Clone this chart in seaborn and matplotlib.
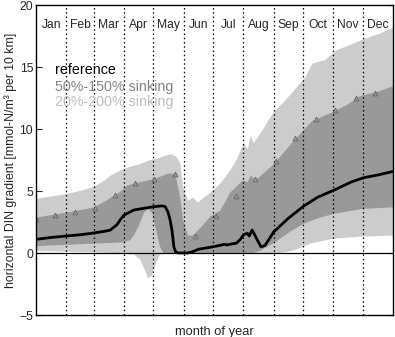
import numpy as np
import pandas as pd
import matplotlib
matplotlib.use("Agg")
import matplotlib.pyplot as plt
import seaborn as sns

# month labels and month start days
months = ['Jan', 'Feb', 'Mar', 'Apr', 'May', 'Jun', 'Jul', 'Aug', 'Sep', 'Oct', 'Nov', 'Dec']
month_start = [0, 31, 59, 90, 120, 151, 181, 212, 243, 273, 304, 334, 365]

# 20%-200% sinking band (upper edge)
lu_day = [0, 15, 31, 45, 58, 70, 76, 86, 96, 106, 115, 125, 132, 138, 143, 147, 150, 155,
          160, 165, 171, 178, 188, 198, 205, 212, 216, 219, 222, 230, 240, 244, 255, 265,
          275, 282, 295, 307, 320, 335, 350, 365]
lu_val = [4.4, 4.6, 4.8, 5.05, 5.35, 5.9, 6.3, 6.7, 7.0, 7.2, 7.5, 7.7, 7.9, 8.0, 7.8, 7.26,
          5.3, 4.27, 4.5, 4.1, 4.5, 4.9, 5.65, 6.7, 7.6, 8.9, 8.4, 9.5, 8.9, 9.8, 11.1, 11.5,
          12.4, 13.3, 14.2, 15.3, 15.6, 16.4, 16.8, 17.3, 17.7, 18.2]

# 20%-200% sinking band (lower edge)
ll_day = [0, 31, 58, 76, 90, 100, 106, 110, 114, 118, 122, 126, 130, 240, 250, 263, 280,
          304, 330, 365]
ll_val = [0.2, 0.15, 0.1, 0.05, 0.0, -0.1, -0.5, -1.2, -2.0, -1.8, -0.8, -0.1, 0.0, 0.0,
          0.05, 0.24, 0.8, 1.2, 1.35, 1.45]

# 50%-150% sinking band (upper edge)
du_day = [0, 15, 31, 45, 58, 70, 76, 86, 93, 106, 120, 135, 142, 147, 150, 155, 160, 165,
          178, 188, 198, 211, 216, 219, 224, 240, 246, 262, 282, 303, 320, 331, 347, 365]
du_val = [2.9, 3.1, 3.3, 3.5, 3.7, 4.2, 4.5, 5.0, 5.5, 5.75, 6.0, 6.45, 6.4, 4.5, 2.66, 1.45,
          1.45, 1.85, 3.0, 3.47, 4.9, 5.9, 5.75, 6.3, 5.9, 7.0, 7.5, 9.0, 10.7, 11.4, 12.1,
          12.7, 13.0, 13.5]

# 50%-150% sinking band (lower edge)
dl_day = [0, 31, 58, 76, 90, 96, 100, 106, 110, 114, 118, 122, 126, 130, 220, 229, 244,
          258, 273, 290, 304, 334, 365]
dl_val = [0.6, 0.7, 0.8, 0.85, 0.9, 1.1, 1.5, 2.5, 3.3, 3.6, 3.3, 2.0, 0.6, 0.0, 0.0, 0.24,
          0.9, 1.7, 2.4, 2.9, 3.2, 3.6, 3.73]

# reference run
ref_day = [0, 15, 31, 45, 58, 70, 76, 83, 86, 90, 96, 100, 110, 120, 129, 132, 135, 137,
           139, 141, 143, 146, 155, 160, 166, 181, 193, 195, 205, 209, 212, 216, 218, 221,
           226, 230, 234, 239, 243, 258, 274, 288, 305, 323, 335, 350, 364]
ref_val = [1.1, 1.25, 1.37, 1.47, 1.6, 1.75, 1.85, 2.3, 2.66, 3.06, 3.3, 3.47, 3.6, 3.73, 3.8,
           3.75, 3.3, 2.7, 1.85, 0.5, 0.05, 0.0, 0.0, 0.1, 0.3, 0.5, 0.7, 0.65, 0.8, 1.1,
           1.45, 1.6, 1.37, 1.85, 1.1, 0.5, 0.6, 1.2, 1.7, 2.8, 3.8, 4.5, 5.08, 5.75, 6.07,
           6.3, 6.56]

# triangle markers
tri_day = [0, 19.4, 39.8, 60, 80.6, 101, 121, 142, 163, 184, 204, 224, 245, 265, 286, 306,
           327, 347]
tri_val = [2.74, 3.06, 3.3, 3.63, 4.68, 5.65, 5.97, 6.37, 1.4, 2.98, 4.6, 5.97, 7.44, 9.27,
           10.8, 11.5, 12.5, 12.9]

light = '#cccccc'
dark = '#999999'


def band(ax, up_day, up_val, lo_day, lo_val, color):
    # both edges were read at different days; put them on one x grid to fill
    grid = np.union1d(up_day, lo_day)
    ax.fill_between(grid, np.interp(grid, up_day, up_val), np.interp(grid, lo_day, lo_val),
                    color=color, lw=0)


sns.set_style("ticks")
plt.rcParams['font.family'] = ['Liberation Sans', 'DejaVu Sans']

fig = plt.figure(figsize=(3.95, 3.37), dpi=100)
ax = fig.add_axes([36 / 395, 1 - 315 / 337, 357 / 395, 310 / 337])

band(ax, lu_day, lu_val, ll_day, ll_val, light)
band(ax, du_day, du_val, dl_day, dl_val, dark)

ax.axhline(0, color='black', lw=0.9)
for d in month_start[1:-1]:
    ax.axvline(d, color='black', ls=(0, (1.2, 2.2)), lw=0.9)

ref_df = pd.DataFrame({'day': ref_day, 'val': ref_val})
sns.lineplot(data=ref_df, x='day', y='val', color='black', lw=2.0, ax=ax)

tri_df = pd.DataFrame({'day': tri_day, 'val': tri_val})
ax.plot(tri_df['day'], tri_df['val'], ls='none', marker='^', ms=3.5,
        mfc=dark, mec='#666666', mew=0.6)

for i, m in enumerate(months):
    ax.text((month_start[i] + month_start[i + 1]) / 2, 18.4, m, ha='center', va='center',
            fontsize=8.7)

ax.text(19.4, 14.75, 'reference', color='black', fontsize=10.3, va='center')
ax.text(19.4, 13.4, '50%-150% sinking', color='#858585', fontsize=10.3, va='center')
ax.text(19.4, 12.2, '20%-200% sinking', color='#bdbdbd', fontsize=10.3, va='center')

ax.set_xlim(0, 365)
ax.set_ylim(-5, 20)
ax.set_xticks([])
ax.set_yticks([-5, 0, 5, 10, 15, 20])
ax.set_yticklabels(['\u22125', '0', '5', '10', '15', '20'])
ax.tick_params(axis='y', direction='in', right=True, length=4, width=0.8, labelsize=8.7, pad=2)
for s in ax.spines.values():
    s.set_linewidth(1.0)
    s.set_color('black')
ax.set_xlabel('month of year', fontsize=9.3, labelpad=8)
ax.set_ylabel('horizontal DIN gradient [mmol-N/m\u00b3 per 10 km]', fontsize=8.8, labelpad=2)

fig.savefig('out.png', dpi=100)
